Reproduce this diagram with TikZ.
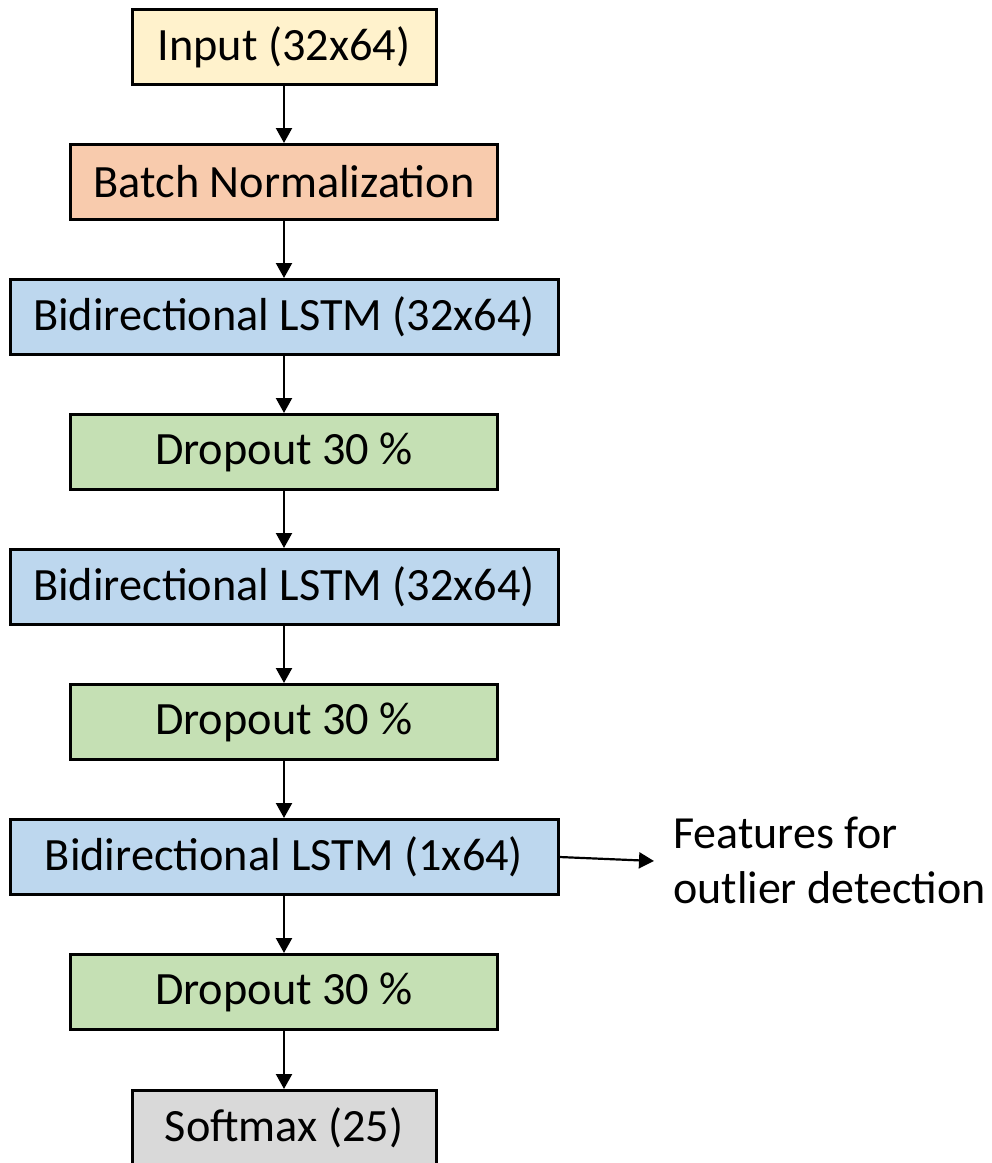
\documentclass[tikz,border=0pt]{standalone}
\usepackage{fontspec}
\setmainfont{Carlito}
\usetikzlibrary{arrows.meta}
\definecolor{cin}{HTML}{FFF2CC}
\definecolor{cbn}{HTML}{F8CBAD}
\definecolor{clstm}{HTML}{BDD7EE}
\definecolor{cdrop}{HTML}{C5E0B4}
\definecolor{csoft}{HTML}{D9D9D9}
\tikzset{
  layer/.style={draw=black, line width=3pt, rectangle, minimum height=75pt, inner sep=0pt,
    font=\fontsize{46.3}{55}\selectfont},
  narrow/.style={layer, minimum width=304pt},
  mid/.style={layer, minimum width=427pt},
  wide/.style={layer, minimum width=548pt},
  flow/.style={line width=2.2pt, -{Triangle[length=15pt,width=16pt]}},
}
\begin{document}
\begin{tikzpicture}[x=1pt,y=-1pt]
\useasboundingbox (0,0) rectangle (992,1163);
\node[narrow, fill=cin] (in) at (284,47) {Input (32x64)};
\node[mid, fill=cbn] (bn) at (284,182) {Batch Normalization};
\node[wide, fill=clstm] (l1) at (284,317) {Bidirectional LSTM (32x64)};
\node[mid, fill=cdrop] (d1) at (284,452) {Dropout 30 \%};
\node[wide, fill=clstm] (l2) at (284,587) {Bidirectional LSTM (32x64)};
\node[mid, fill=cdrop] (d2) at (284,722) {Dropout 30 \%};
\node[wide, fill=clstm] (l3) at (284,857) {Bidirectional LSTM (1x64)};
\node[mid, fill=cdrop] (d3) at (284,992) {Dropout 30 \%};
\node[narrow, fill=csoft] (sm) at (284,1128) {Softmax (25)};
\node[anchor=west, align=left, inner sep=0pt, font=\fontsize{46}{55}\selectfont] (feat) at (673,860) {Features for\\outlier detection};
\coordinate (ft) at (654,861);
\draw[flow] (in) -- (bn);
\draw[flow] (bn) -- (l1);
\draw[flow] (l1) -- (d1);
\draw[flow] (d1) -- (l2);
\draw[flow] (l2) -- (d2);
\draw[flow] (d2) -- (l3);
\draw[flow] (l3) -- (d3);
\draw[flow] (d3) -- (sm);
\draw[flow] (l3.east) -- (ft);
\end{tikzpicture}
\end{document}
